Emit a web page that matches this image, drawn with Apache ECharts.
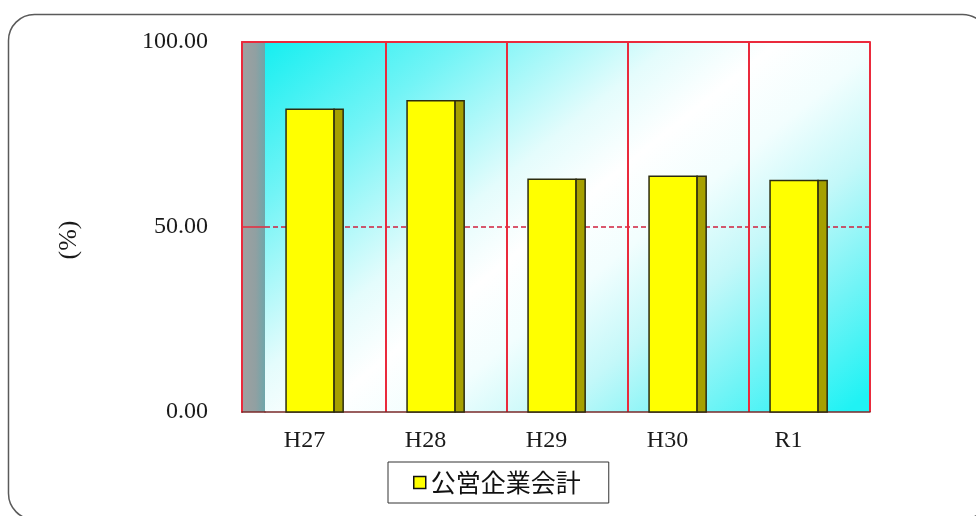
<!DOCTYPE html>
<html>
<head>
<meta charset="utf-8">
<script src="https://cdn.jsdelivr.net/npm/echarts@6/dist/echarts.min.js"></script>
<style>
  html, body { margin: 0; padding: 0; background: #ffffff; }
  #chart { width: 976px; height: 516px; }
</style>
</head>
<body>
<div id="chart"></div>
<script>
// Fiscal years and the ratio (%) for each
const categories = ['H27', 'H28', 'H29', 'H30', 'R1'];
const ratioValues = [81.8, 84.1, 62.9, 63.7, 62.6];
const seriesName = '公営企業会計';
const yTickValues = [0, 50, 100];

const serif = '"Liberation Serif", "DejaVu Serif", serif';
const frameRed = '#ea2a3c';
const floorLine = '#7a2a2a';

// Box-style bar: yellow front face plus a dark olive side face
function renderBar(params, api) {
  const idx = api.value(0);
  const val = api.value(1);
  const top = api.coord([idx, val]);
  const base = api.coord([idx, 0]);
  const band = api.size([1, 0])[0];
  const frontW = band * 0.397;
  const sideW = band * 0.075;
  const x0 = top[0] - band * 0.326;
  const h = base[1] - top[1];
  return {
    type: 'group',
    children: [
      { type: 'rect', shape: { x: x0, y: top[1], width: frontW, height: h },
        style: { fill: '#ffff00', stroke: '#2c2c10', lineWidth: 1.5 } },
      { type: 'rect', shape: { x: x0 + frontW, y: top[1], width: sideW, height: h },
        style: { fill: '#a6a000', stroke: '#2c2c10', lineWidth: 1.5 } }
    ]
  };
}

const chart = echarts.init(document.getElementById('chart'), null, { renderer: 'canvas' });

const option = {
  backgroundColor: '#ffffff',
  animation: false,
  graphic: [
    {
      type: 'rect', z: 100, silent: true,
      shape: { x: 8.5, y: 14.5, width: 980, height: 505, r: 26 },
      style: { fill: 'none', stroke: '#5a5a5a', lineWidth: 1.5 }
    }
  ],
  grid: [
    {
      left: 265, right: 106, top: 42, bottom: 104,
      show: true, borderWidth: 0,
      backgroundColor: {
        type: 'linear', global: true,
        x: 343, y: -31, x2: 757, y2: 483,
        colorStops: [
          { offset: 0, color: '#10eef0' },
          { offset: 0.2, color: '#72f4f6' },
          { offset: 0.4, color: '#e4fcfc' },
          { offset: 0.5, color: '#ffffff' },
          { offset: 0.6, color: '#f2fefe' },
          { offset: 0.72, color: '#c4f8f9' },
          { offset: 0.86, color: '#72f4f6' },
          { offset: 1, color: '#20f2f4' }
        ]
      }
    },
    {
      left: 242, width: 23, top: 42, bottom: 104,
      show: true, borderWidth: 0,
      backgroundColor: {
        type: 'linear', x: 0, y: 0, x2: 1, y2: 0,
        colorStops: [
          { offset: 0, color: '#a0a0a0' },
          { offset: 0.6, color: '#90a0a2' },
          { offset: 1, color: '#6ea6aa' }
        ]
      }
    }
  ],
  legend: {
    left: 388, top: 462,
    selectedMode: false,
    backgroundColor: '#ffffff',
    borderColor: '#333333', borderWidth: 1,
    padding: [8, 28, 8, 25],
    itemWidth: 12, itemHeight: 12,
    textStyle: { fontFamily: '"Noto Sans CJK JP", sans-serif', fontSize: 25, color: '#111111' },
    data: [{
      name: seriesName, icon: 'rect',
      itemStyle: { color: '#ffff00', borderColor: '#111111', borderWidth: 1.5 }
    }]
  },
  xAxis: [
    {
      gridIndex: 0, type: 'category', data: categories, position: 'bottom',
      axisLine: { show: true, lineStyle: { color: floorLine, width: 1.5 } },
      axisTick: { show: false },
      axisLabel: {
        fontFamily: serif, fontSize: 24, color: '#1a1a1a',
        margin: 17, padding: [0, 42, 0, 0]
      },
      splitLine: { show: true, showMinLine: false, lineStyle: { color: frameRed, width: 2 } }
    },
    {
      gridIndex: 0, type: 'category', data: categories, position: 'top',
      axisLine: { show: true, lineStyle: { color: frameRed, width: 2 } },
      axisTick: { show: false }, axisLabel: { show: false }, splitLine: { show: false }
    },
    {
      gridIndex: 1, type: 'category', data: [''], position: 'bottom',
      axisLine: { show: true, lineStyle: { color: floorLine, width: 1.5 } },
      axisTick: { show: false }, axisLabel: { show: false }, splitLine: { show: false }
    },
    {
      gridIndex: 1, type: 'category', data: [''], position: 'top',
      axisLine: { show: true, lineStyle: { color: frameRed, width: 2 } },
      axisTick: { show: false }, axisLabel: { show: false }, splitLine: { show: false }
    }
  ],
  yAxis: [
    {
      gridIndex: 0, type: 'value',
      min: yTickValues[0], max: yTickValues[yTickValues.length - 1], interval: yTickValues[1] - yTickValues[0],
      axisLine: { show: false }, axisTick: { show: false }, axisLabel: { show: false },
      splitLine: { show: true, showMinLine: false, showMaxLine: false,
        lineStyle: { color: '#d0203e', width: 1.5, type: [5, 3] } }
    },
    {
      gridIndex: 1, type: 'value',
      min: yTickValues[0], max: yTickValues[yTickValues.length - 1], interval: yTickValues[1] - yTickValues[0],
      name: '(%)', nameLocation: 'middle', nameRotate: 90, nameGap: 160,
      nameTextStyle: { fontFamily: serif, fontSize: 26, color: '#1a1a1a', padding: [0, 26, 0, 0] },
      axisLine: { show: true, lineStyle: { color: frameRed, width: 2 } },
      axisTick: { show: false },
      axisLabel: {
        fontFamily: serif, fontSize: 24, color: '#1a1a1a', margin: 34,
        formatter: v => v.toFixed(2)
      },
      splitLine: { show: true, showMinLine: false, showMaxLine: false,
        lineStyle: { color: frameRed, width: 1.5 } }
    }
  ],
  series: [
    {
      name: seriesName,
      type: 'custom',
      xAxisIndex: 0, yAxisIndex: 0,
      renderItem: renderBar,
      itemStyle: { color: '#ffff00', borderColor: '#111111', borderWidth: 1.5 },
      encode: { x: 0, y: 1 },
      data: categories.map((c, i) => [i, ratioValues[i]])
    }
  ]
};

chart.setOption(option);
</script>
</body>
</html>
